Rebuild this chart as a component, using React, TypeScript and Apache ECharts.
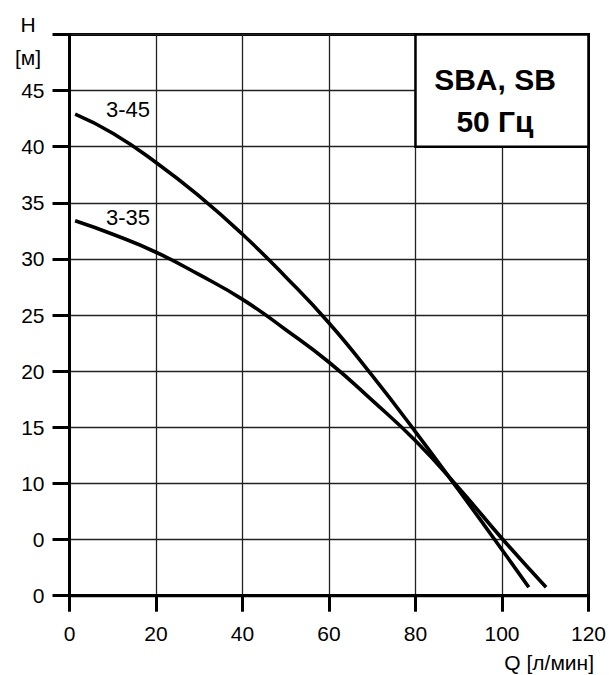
import React, { useEffect, useRef } from "react";
import * as echarts from "echarts";

const xTicks = [0, 20, 40, 60, 80, 100, 120];
const yTickLabels = ["0", "0", "10", "15", "20", "25", "30", "35", "40", "45", ""];

const curve45Q = [1.3, 10, 20, 30, 40, 50, 60, 70, 80, 90, 100, 106.2];
const curve45H = [42.9, 41.2, 38.6, 35.6, 32.2, 28.4, 24.3, 19.6, 14.6, 9.4, 4.1, 0.75];

const curve35Q = [1.3, 10, 20, 30, 40, 50, 60, 70, 80, 90, 100, 110.2];
const curve35H = [33.4, 32.2, 30.6, 28.6, 26.4, 23.7, 20.8, 17.4, 13.8, 9.6, 5.1, 0.75];

const seriesNames = ["3-45", "3-35"];
const boxLines = ["SBA, SB", "50 Гц"];

const FONT = "'Liberation Sans', Arial, Helvetica, sans-serif";

export default function App() {
  const ref = useRef<HTMLDivElement>(null);
  useEffect(() => {
    document.body.style.margin = "0";
    const chart = echarts.init(ref.current!, undefined, { renderer: "svg" });
    const toPairs = (q: number[], h: number[]) => q.map((v, i) => [v, h[i]]);
    chart.setOption({
      animation: false,
      backgroundColor: "#fff",
      textStyle: { fontFamily: FONT },
      grid: {
        left: 69.5,
        right: 19.7,
        top: 34.5,
        bottom: 79.3,
        show: true,
        borderColor: "#000",
        borderWidth: 3,
        backgroundColor: "transparent",
      },
      xAxis: {
        type: "value",
        min: xTicks[0],
        max: xTicks[xTicks.length - 1],
        interval: 20,
        axisLine: { show: true, onZero: false, lineStyle: { color: "#000", width: 3 } },
        axisTick: { show: true, inside: false, length: 16, lineStyle: { color: "#000", width: 3 } },
        axisLabel: { margin: 27, fontSize: 21, color: "#000", fontFamily: FONT },
        splitLine: { show: true, lineStyle: { color: "#222", width: 1.3 } },
      },
      yAxis: {
        type: "value",
        min: 0,
        max: 50,
        interval: 5,
        axisLine: { show: true, onZero: false, lineStyle: { color: "#000", width: 3 } },
        axisTick: { show: true, inside: false, length: 17, lineStyle: { color: "#000", width: 3 } },
        axisLabel: {
          margin: 25,
          fontSize: 21,
          color: "#000",
          fontFamily: FONT,
          formatter: (_v: number, i: number) => yTickLabels[i] ?? "",
        },
        splitLine: { show: true, lineStyle: { color: "#222", width: 1.3 } },
      },
      series: [
        {
          name: seriesNames[0],
          type: "line",
          data: toPairs(curve45Q, curve45H),
          smooth: 0.5,
          symbol: "none",
          lineStyle: { color: "#000", width: 3.6 },
          z: 5,
          markArea: {
            silent: true,
            itemStyle: { color: "#fff", borderColor: "#000", borderWidth: 2.5, opacity: 1 },
            label: {
              show: true,
              position: "inside",
              offset: [-7, 10],
              formatter: boxLines.join("\n"),
              fontSize: 30,
              fontWeight: "bold",
              lineHeight: 42,
              color: "#000",
              fontFamily: FONT,
              align: "center",
            },
            data: [[{ coord: [80, 40] }, { coord: [120, 50] }]],
          },
        },
        {
          name: seriesNames[1],
          type: "line",
          data: toPairs(curve35Q, curve35H),
          smooth: 0.5,
          symbol: "none",
          lineStyle: { color: "#000", width: 3.6 },
          z: 5,
        },
      ],
      graphic: [
        { type: "text", x: 150, y: 109, style: { text: seriesNames[0], fontSize: 22, fill: "#000", fontFamily: FONT, textAlign: "right", textVerticalAlign: "middle" } },
        { type: "text", x: 150, y: 217, style: { text: seriesNames[1], fontSize: 22, fill: "#000", fontFamily: FONT, textAlign: "right", textVerticalAlign: "middle" } },
        { type: "text", x: 28, y: 24, style: { text: "H", fontSize: 21, fill: "#000", fontFamily: FONT, textAlign: "center", textVerticalAlign: "middle" } },
        { type: "text", x: 28, y: 57, style: { text: "[м]", fontSize: 21, fill: "#000", fontFamily: FONT, textAlign: "center", textVerticalAlign: "middle" } },
        { type: "text", x: 594, y: 662, style: { text: "Q [л/мин]", fontSize: 21, fill: "#000", fontFamily: FONT, textAlign: "right", textVerticalAlign: "middle" } },
      ],
    });
    return () => chart.dispose();
  }, []);
  return (
    <div
      ref={ref}
      style={{ position: "fixed", left: 0, top: 0, width: 609, height: 675 }}
    />
  );
}
